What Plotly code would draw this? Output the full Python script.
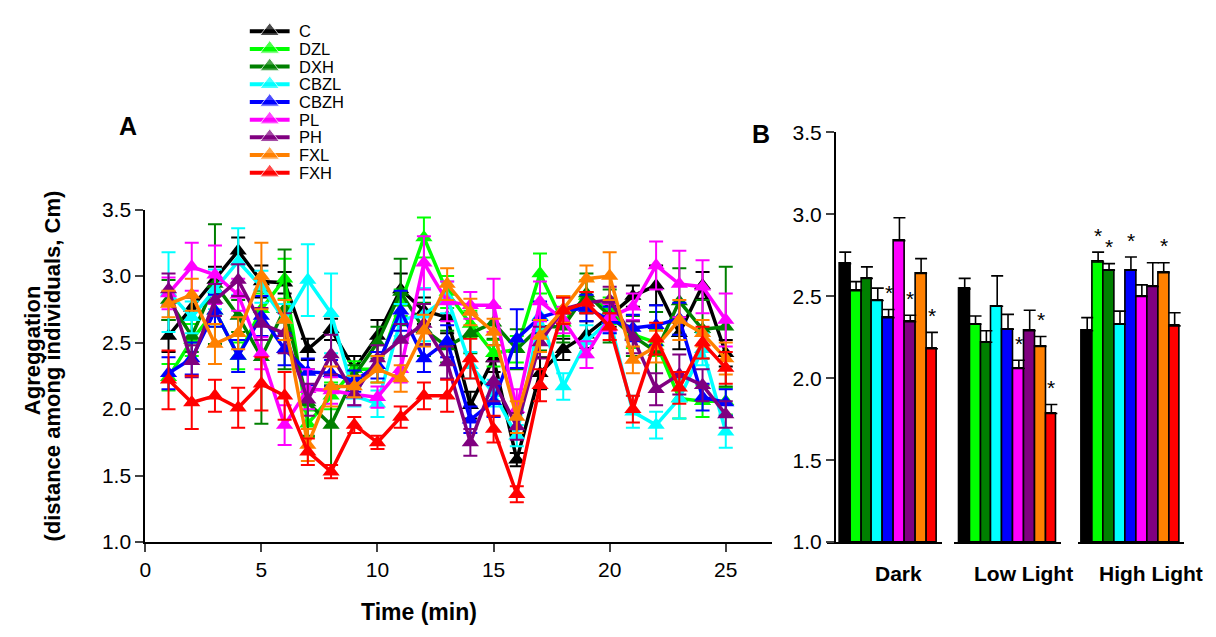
import plotly.graph_objects as go

W, H = 1216, 637

# ---------------- data ----------------
series_names = ["C", "DZL", "DXH", "CBZL", "CBZH", "PL", "PH", "FXL", "FXH"]
series_colors = ["#000000", "#00FF00", "#008000", "#00FFFF", "#0000FF",
                 "#FF00FF", "#800080", "#FF8000", "#FF0000"]

time_min = list(range(1, 26))

C_mean = [2.55, 2.76, 2.97, 3.19, 2.96, 2.95, 2.45, 2.60, 2.30, 2.55, 2.90, 2.74, 2.69,
          2.03, 2.38, 1.62, 2.27, 2.45, 2.56, 2.70, 2.85, 2.93, 2.57, 2.93, 2.42]
DZL_mean = [2.24, 2.52, 2.74, 2.40, 2.75, 2.98, 1.89, 2.10, 2.30, 2.30, 2.80, 3.29, 2.88,
            2.64, 2.42, 2.45, 3.02, 2.65, 2.85, 2.74, 2.56, 2.50, 2.08, 2.06, 2.06]
DXH_mean = [2.82, 2.55, 2.94, 2.70, 2.39, 2.75, 2.05, 1.88, 2.25, 2.50, 2.88, 2.60, 2.47,
            2.57, 2.65, 2.45, 2.62, 2.62, 2.87, 2.70, 2.55, 2.43, 2.81, 2.60, 2.62]
CBZL_mean = [2.88, 2.69, 2.90, 3.11, 2.92, 2.67, 2.97, 2.72, 2.10, 2.04, 2.67, 2.71, 2.84,
             2.33, 2.12, 1.80, 2.70, 2.17, 2.51, 2.67, 1.98, 1.88, 2.08, 2.45, 1.83]
CBZH_mean = [2.27, 2.38, 2.74, 2.40, 2.70, 2.45, 2.28, 2.27, 2.21, 2.33, 2.74, 2.38, 2.51,
             1.92, 2.06, 2.53, 2.69, 2.74, 2.76, 2.67, 2.61, 2.63, 2.68, 2.09, 2.05]
PL_mean = [2.87, 3.07, 3.01, 2.86, 2.42, 1.88, 2.15, 2.14, 2.11, 2.09, 2.30, 3.10, 2.81,
           2.78, 2.78, 2.00, 2.81, 2.67, 2.41, 2.69, 2.77, 3.08, 2.94, 2.92, 2.67]
PH_mean = [2.90, 2.36, 2.82, 2.97, 2.64, 2.57, 2.07, 2.41, 2.11, 2.38, 2.52, 2.64, 2.35,
           1.75, 2.21, 1.87, 2.50, 2.75, 2.80, 2.82, 2.54, 2.15, 2.26, 2.18, 1.96]
FXL_mean = [2.79, 2.86, 2.49, 2.57, 3.00, 2.67, 1.73, 2.17, 2.17, 2.30, 2.23, 2.59, 2.94,
            2.73, 2.58, 1.94, 2.55, 2.75, 2.98, 3.00, 2.37, 2.47, 2.67, 2.57, 2.38]
FXH_mean = [2.22, 2.05, 2.10, 2.01, 2.19, 2.10, 1.68, 1.53, 1.88, 1.75, 1.94, 2.10, 2.10,
            2.38, 1.85, 1.36, 2.18, 2.74, 2.80, 2.62, 2.00, 2.53, 2.16, 2.50, 2.31]

C_err = [0.12, 0.08, 0.10, 0.10, 0.12, 0.08, 0.08, 0.08, 0.10, 0.12, 0.12, 0.10, 0.12,
         0.10, 0.10, 0.05, 0.12, 0.08, 0.10, 0.08, 0.08, 0.15, 0.12, 0.10, 0.10]
DZL_err = [0.10, 0.12, 0.12, 0.10, 0.12, 0.15, 0.10, 0.10, 0.06, 0.10, 0.10, 0.15, 0.12,
           0.10, 0.10, 0.10, 0.15, 0.10, 0.12, 0.10, 0.10, 0.10, 0.15, 0.12, 0.10]
DXH_err = [0.15, 0.12, 0.45, 0.12, 0.50, 0.45, 0.25, 0.30, 0.08, 0.12, 0.25, 0.20, 0.12,
           0.15, 0.12, 0.15, 0.18, 0.12, 0.15, 0.20, 0.15, 0.30, 0.25, 0.22, 0.45]
CBZL_err = [0.30, 0.12, 0.15, 0.25, 0.12, 0.12, 0.27, 0.30, 0.08, 0.10, 0.12, 0.20, 0.12,
            0.10, 0.10, 0.08, 0.10, 0.10, 0.12, 0.10, 0.12, 0.10, 0.15, 0.12, 0.12]
CBZH_err = [0.12, 0.12, 0.12, 0.12, 0.15, 0.12, 0.10, 0.10, 0.08, 0.10, 0.15, 0.10, 0.12,
            0.10, 0.12, 0.22, 0.12, 0.10, 0.10, 0.10, 0.10, 0.15, 0.12, 0.10, 0.10]
PL_err = [0.12, 0.18, 0.22, 0.12, 0.12, 0.15, 0.15, 0.10, 0.08, 0.08, 0.10, 0.20, 0.15,
          0.10, 0.20, 0.15, 0.15, 0.10, 0.10, 0.10, 0.10, 0.18, 0.25, 0.20, 0.20]
PH_err = [0.12, 0.12, 0.12, 0.12, 0.12, 0.15, 0.12, 0.15, 0.08, 0.10, 0.12, 0.15, 0.12,
          0.10, 0.15, 0.10, 0.12, 0.10, 0.08, 0.10, 0.12, 0.12, 0.15, 0.12, 0.10]
FXL_err = [0.10, 0.12, 0.15, 0.12, 0.25, 0.15, 0.12, 0.15, 0.08, 0.10, 0.10, 0.12, 0.12,
           0.10, 0.10, 0.12, 0.12, 0.10, 0.10, 0.18, 0.10, 0.12, 0.15, 0.10, 0.12]
FXH_err = [0.22, 0.20, 0.12, 0.15, 0.20, 0.18, 0.10, 0.05, 0.06, 0.05, 0.08, 0.10, 0.12,
           0.15, 0.10, 0.06, 0.12, 0.10, 0.08, 0.10, 0.10, 0.12, 0.12, 0.12, 0.12]

means_A = [C_mean, DZL_mean, DXH_mean, CBZL_mean, CBZH_mean, PL_mean, PH_mean, FXL_mean, FXH_mean]
errs_A = [C_err, DZL_err, DXH_err, CBZL_err, CBZH_err, PL_err, PH_err, FXL_err, FXH_err]

# Panel B: per light condition, one value per series (order of series_names)
conditions = ["Dark", "Low Light", "High Light"]
dark_mean = [2.70, 2.535, 2.61, 2.475, 2.37, 2.84, 2.345, 2.64, 2.18]
dark_err = [0.07, 0.055, 0.07, 0.075, 0.05, 0.14, 0.04, 0.09, 0.10]
low_mean = [2.545, 2.33, 2.22, 2.44, 2.30, 2.06, 2.29, 2.195, 1.785]
low_err = [0.065, 0.05, 0.07, 0.185, 0.09, 0.05, 0.125, 0.06, 0.055]
high_mean = [2.29, 2.71, 2.66, 2.33, 2.66, 2.50, 2.56, 2.645, 2.32]
high_err = [0.08, 0.06, 0.04, 0.08, 0.08, 0.07, 0.145, 0.06, 0.08]
# significance stars (index of series in each condition)
dark_stars = [4, 6, 8]
low_stars = [5, 7, 8]
high_stars = [1, 2, 4, 7]

y_ticks = [1.0, 1.5, 2.0, 2.5, 3.0, 3.5]
x_ticks = [0, 5, 10, 15, 20, 25]

# ---------------- helpers ----------------
def px(x):
    return x / W

def py(y):
    return 1 - y / H

FONT = "Liberation Sans, Arial, sans-serif"

fig = go.Figure()

# ---------------- Panel A ----------------
for name, color, m, e in zip(series_names, series_colors, means_A, errs_A):
    fig.add_trace(go.Scatter(
        x=time_min, y=m, mode="lines+markers", name=name,
        line=dict(color=color, width=3.5),
        marker=dict(symbol="triangle-up", size=15, color=color),
        error_y=dict(type="data", array=e, visible=True, color=color,
                     thickness=2, width=7),
        xaxis="x", yaxis="y", showlegend=False,
    ))

# ---------------- Panel B ----------------
groups = [
    ("x2", dark_mean, dark_err, dark_stars),
    ("x3", low_mean, low_err, low_stars),
    ("x4", high_mean, high_err, high_stars),
]
annotations = []
for xa, m, e, stars in groups:
    idx = list(range(len(series_names)))
    fig.add_trace(go.Bar(
        x=idx, y=[v - 1.0 for v in m], base=1.0, width=1.0,
        marker=dict(color=series_colors, line=dict(color="black", width=1.6)),
        error_y=dict(type="data", symmetric=False, array=e,
                     arrayminus=[0] * len(e), color="black", thickness=1.6, width=6),
        xaxis=xa, yaxis="y2", showlegend=False,
    ))
    for s in stars:
        annotations.append(dict(
            x=s, y=m[s] + e[s] + 0.02, xref=xa, yref="y2", text="*",
            showarrow=False, yanchor="bottom",
            font=dict(family=FONT, size=21, color="black"),
        ))

# ---------------- manual legend ----------------
for i, (name, color) in enumerate(zip(series_names, series_colors)):
    fig.add_trace(go.Scatter(
        x=[5, 25, 45], y=[i, i, i], mode="lines+markers",
        line=dict(color=color, width=4),
        marker=dict(symbol="triangle-up", size=[0, 17, 0], color=color),
        xaxis="x5", yaxis="y5", showlegend=False, hoverinfo="skip",
    ))
    annotations.append(dict(
        x=52, y=i, xref="x5", yref="y5", text=name, showarrow=False,
        xanchor="left", yanchor="middle",
        font=dict(family=FONT, size=16.5, color="black"),
    ))

# condition labels under panel B
cond_centers = [897, 1023, 1151]
for c, cx in zip(conditions, cond_centers):
    annotations.append(dict(
        x=px(cx), y=py(583), xref="paper", yref="paper", text="<b>" + c + "</b>",
        showarrow=False, xanchor="center", yanchor="middle",
        font=dict(family=FONT, size=21, color="black"),
    ))

# panel letters
annotations.append(dict(x=px(123), y=py(118), xref="paper", yref="paper", text="<b>A</b>",
                        showarrow=False, xanchor="center", yanchor="middle",
                        font=dict(family=FONT, size=25, color="black")))
annotations.append(dict(x=px(759), y=py(127), xref="paper", yref="paper", text="<b>B</b>",
                        showarrow=False, xanchor="center", yanchor="middle",
                        font=dict(family=FONT, size=25, color="black")))

# axis titles
annotations.append(dict(x=px(415), y=py(622), xref="paper", yref="paper",
                        text="<b>Time (min)</b>", showarrow=False,
                        xanchor="center", yanchor="middle",
                        font=dict(family=FONT, size=23, color="black")))
annotations.append(dict(x=px(26), y=py(351), xref="paper", yref="paper",
                        text="<b>Agreggation</b>",
                        showarrow=False, textangle=-90,
                        xanchor="center", yanchor="middle",
                        font=dict(family=FONT, size=22, color="black")))
annotations.append(dict(x=px(47), y=py(367), xref="paper", yref="paper",
                        text="<b>(distance among individuals, Cm)</b>",
                        showarrow=False, textangle=-90,
                        xanchor="center", yanchor="middle",
                        font=dict(family=FONT, size=22, color="black")))

tickfont = dict(family=FONT, size=21, color="black")

fig.update_layout(
    width=W, height=H,
    margin=dict(l=0, r=0, t=0, b=0),
    paper_bgcolor="white", plot_bgcolor="white",
    annotations=annotations,
    bargap=0,
    xaxis=dict(domain=[px(140), px(770)], range=[0, 27], anchor="y",
               tickvals=x_ticks, ticks="outside", ticklen=8, tickwidth=1.5,
               showline=True, linecolor="black", linewidth=2, showgrid=False,
               zeroline=False, tickfont=tickfont),
    yaxis=dict(domain=[py(550), py(205)], range=[1, 3.5], anchor="x",
               tickvals=y_ticks, tickformat=".1f", ticks="outside", ticklen=8,
               tickwidth=1.5, showline=True, linecolor="black", linewidth=2,
               showgrid=False, zeroline=False, tickfont=tickfont),
    xaxis2=dict(domain=[px(825), px(941)], range=[-1.69, 8.96], anchor="y2",
                showline=True, linecolor="black", linewidth=2, showticklabels=False,
                ticks="", showgrid=False, zeroline=False),
    xaxis3=dict(domain=[px(953), px(1060)], range=[-0.96, 8.87], anchor="y2",
                showline=True, linecolor="black", linewidth=2, showticklabels=False,
                ticks="", showgrid=False, zeroline=False),
    xaxis4=dict(domain=[px(1077), px(1184)], range=[-0.87, 8.87], anchor="y2",
                showline=True, linecolor="black", linewidth=2, showticklabels=False,
                ticks="", showgrid=False, zeroline=False),
    yaxis2=dict(domain=[py(550), py(125)], range=[1, 3.5], anchor="free",
                position=px(833), tickvals=y_ticks, tickformat=".1f",
                ticks="outside", ticklen=8, tickwidth=1.5, showline=True,
                linecolor="black", linewidth=2, showgrid=False, zeroline=False,
                tickfont=tickfont),
    xaxis5=dict(domain=[px(240), px(340)], range=[0, 100], anchor="y5",
                visible=False, fixedrange=True),
    yaxis5=dict(domain=[py(176), py(10)], range=[8.51, -0.5456], anchor="x5",
                visible=False, fixedrange=True),
)

fig.write_html(
    "out.html",
    config={"displayModeBar": False},
    post_script="document.body.style.margin='0';document.body.style.overflow='hidden';",
)
